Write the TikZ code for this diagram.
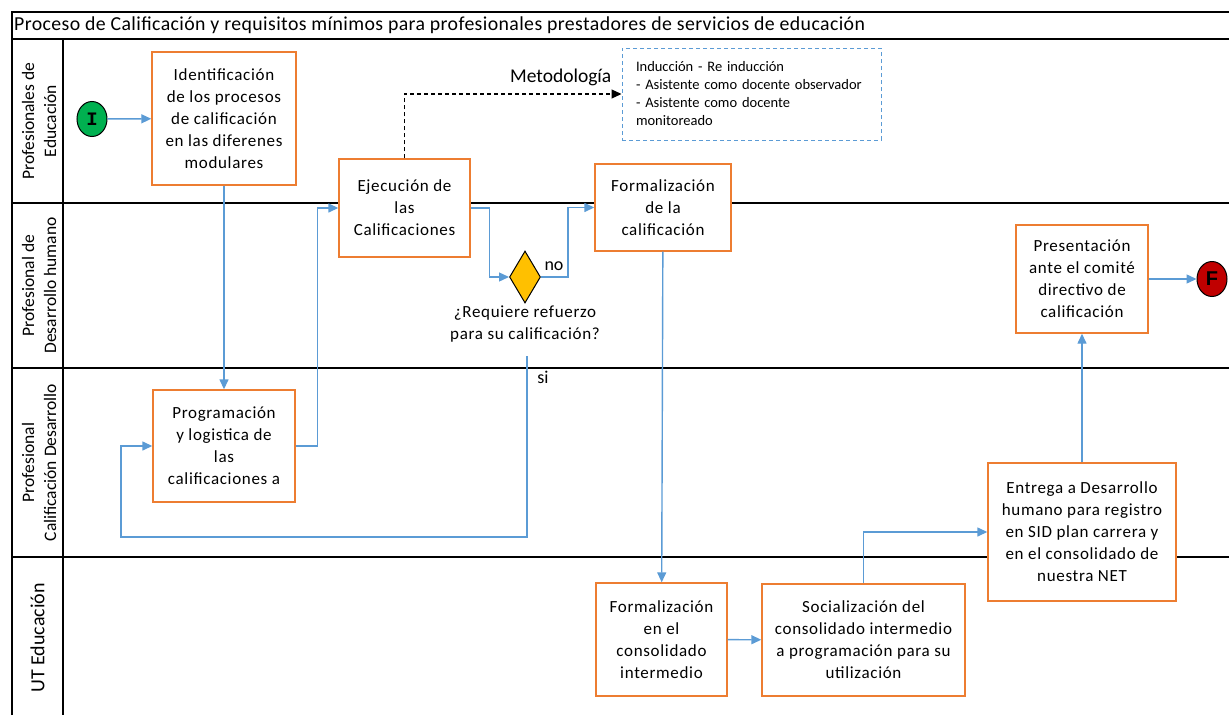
\documentclass[tikz,border=0pt]{standalone}
\usepackage{fontspec}
\setmainfont{Carlito}
\newfontfamily\boxfont[LetterSpace=4]{Carlito}
\newfontfamily\titlefont[LetterSpace=2]{Carlito}
\newfontfamily\slabfont{Liberation Mono}
\newfontfamily\headfont{Liberation Sans}
\usetikzlibrary{arrows.meta,shapes.geometric}
\definecolor{boxorange}{RGB}{237,125,49}
\definecolor{flowblue}{RGB}{91,155,213}
\definecolor{startgreen}{RGB}{0,176,80}
\definecolor{endred}{RGB}{192,0,0}
\definecolor{decgold}{RGB}{255,192,0}
\begin{document}
\begin{tikzpicture}[x=1pt,y=-1pt,
	box/.style={draw=boxorange,line width=1.4pt,fill=white,align=center,inner sep=2pt,
		font=\boxfont\fontsize{17}{22}\selectfont},
	flow/.style={draw=flowblue,line width=1.4pt,-{Triangle[length=10pt,width=9pt]}},
	lane/.style={rotate=90,align=center,font=\fontsize{17.5}{22}\selectfont},
	event/.style={ellipse,draw,line width=1pt,minimum width=30pt,minimum height=35pt,inner sep=0}]
\useasboundingbox (0,0) rectangle (1229,715);
% frame and lanes
\draw[line width=1.5pt] (12,715) -- (12,12) -- (1229,12);
\draw[line width=1.5pt] (12,39) -- (1229,39);
\draw[line width=2pt] (12,203) -- (1229,203);
\draw[line width=2pt] (12,368) -- (1229,368);
\draw[line width=2pt] (12,557) -- (1229,557);
\draw[line width=1.5pt] (63,39) -- (63,715);
\node[anchor=west,inner sep=0,font=\titlefont\fontsize{19.8}{22}\selectfont] (titulo) at (14,25.5)
	{Proceso de Calificación y requisitos mínimos para profesionales prestadores de servicios de educación};
\node[lane] (lane1) at (39,121) {Profesionales de\\Educación};
\node[lane] (lane2) at (39,285.5) {Profesional de\\Desarrollo humano};
\node[lane] (lane3) at (39,462.5) {Profesional\\Calificación Desarrollo};
\node[lane,font=\fontsize{20}{24}\selectfont] (lane4) at (37.5,638) {UT Educación};
% tasks
\node[event,fill=startgreen] (inicio) at (92,119) {\slabfont\bfseries\fontsize{19}{19}\selectfont I};
\node[box,minimum width=144pt,minimum height=133pt] (ident) at (224,118.5)
	{Identificación\\de los procesos\\de calificación\\en las diferenes\\modulares};
\node[box,minimum width=131pt,minimum height=98pt] (ejec) at (404.5,208)
	{Ejecución de\\las\\Calificaciones};
\node[box,minimum width=136pt,minimum height=87pt] (formal) at (663,207.5)
	{Formalización\\de la\\calificación};
\node[box,minimum width=142pt,minimum height=112pt] (prog) at (224,446)
	{Programación\\y logistica de\\las\\calificaciones a};
\node[box,minimum width=132pt,minimum height=108pt] (present) at (1082,279)
	{Presentación\\ante el comité\\directivo de\\calificación};
\node[box,minimum width=188pt,minimum height=138pt] (entrega) at (1082,532)
	{Entrega a Desarrollo\\humano para registro\\en SID plan carrera y\\en el consolidado de\\nuestra NET};
\node[box,minimum width=131pt,minimum height=113pt] (consol) at (661.5,639.5)
	{Formalización\\en el\\consolidado\\intermedio};
\node[box,minimum width=203pt,minimum height=112pt] (social) at (863.5,640)
	{Socialización del\\consolidado intermedio\\a programación para su\\utilización};
\node[event,fill=endred] (fin) at (1212,279) {\headfont\bfseries\fontsize{20}{20}\selectfont F};
\node[draw=flowblue,line width=1pt,dash pattern=on 4pt off 3pt,minimum width=259pt,minimum height=92pt,
	text width=231pt,inner xsep=14pt,align=left,font=\fontsize{14.5}{18}\selectfont] (metod) at (751.5,94)
	{Inducción - Re inducción\\- Asistente como docente observador\\- Asistente como docente\\monitoreado};
% decision
\node[diamond,draw,fill=decgold,line width=1pt,minimum width=31pt,minimum height=52pt,inner sep=0] (refuerzo) at (525,277) {};
\node[anchor=north,align=center,font=\boxfont\fontsize{17}{22}\selectfont] (pregunta) at (525,302)
	{¿Requiere refuerzo\\para su calificación?};
\node[font=\fontsize{18}{22}\selectfont] (no) at (554,266) {no};
\node[font=\fontsize{18}{22}\selectfont] (si) at (543,377) {si};
\coordinate (sisal) at (527,356);
% connectors
\draw[flow] (inicio) -- (ident);
\draw[flow] (ident) -- (prog);
\draw[flow] (prog.east) -- ++(22,0) |- (ejec.west);
\draw[flow] (ejec.east) -- ++(19,0) |- (refuerzo.west);
\draw[flow] (refuerzo.east) -- ++(27,0) |- (formal.west);
\draw[flow] (sisal) -- ++(0,181) -- ++(-406,0) |- (prog.west);
\draw[flow] (formal) -- (consol);
\draw[flow] (consol) -- (social);
\draw[flow] (social.north) |- (entrega.west);
\draw[flow] (entrega) -- (present);
\draw[flow] (present) -- (fin);
\draw[line width=1.2pt,dash pattern=on 4pt off 3pt,-{Triangle[length=10pt,width=9pt]}] (ejec.north) |-
	node[pos=0.86,above=4pt,font=\fontsize{19.5}{22}\selectfont] {Metodología} (metod.west);
\end{tikzpicture}
\end{document}
